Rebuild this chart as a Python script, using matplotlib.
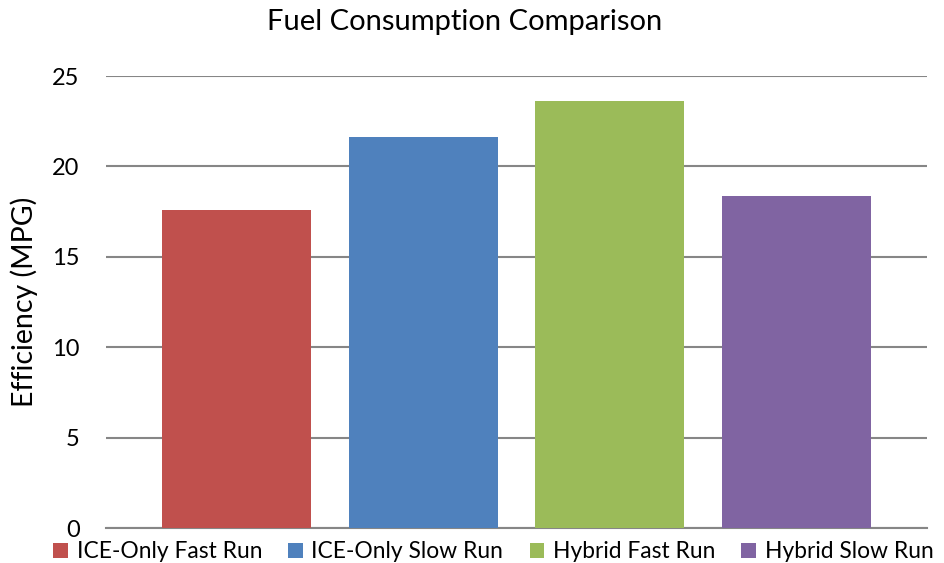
import matplotlib
matplotlib.use('Agg')
import matplotlib.pyplot as plt
from matplotlib.patches import Patch

# ── Data ──────────────────────────────────────────────────────────────────
categories = ['ICE-Only Fast Run', 'ICE-Only Slow Run', 'Hybrid Fast Run', 'Hybrid Slow Run']
mpg        = [17.6, 21.6, 23.6, 18.35]
colors     = ['#C0504D', '#4F81BD', '#9BBB59', '#8064A2']
yticks     = [0, 5, 10, 15, 20, 25]

plt.rcParams['font.family'] = ['Lato', 'DejaVu Sans']

fig = plt.figure(figsize=(9.45, 5.63), dpi=100)
ax = fig.add_axes([0.1122, 0.062, 0.8688, 0.803])

x = range(len(categories))
ax.bar(x, mpg, width=0.80, color=colors, zorder=3)

ax.set_ylim(0, 25)
ax.set_xlim(-0.70, 3.70)
ax.set_yticks(yticks)
ax.set_xticks([])
ax.yaxis.grid(True, color='#868686', linewidth=1.5, zorder=0)
for side in ['top', 'right', 'left']:
    ax.spines[side].set_visible(False)
ax.spines['bottom'].set_color('#868686')
ax.spines['bottom'].set_linewidth(1.5)
ax.tick_params(axis='y', length=0, labelsize=17, pad=19)

ax.set_ylabel('Efficiency (MPG)', fontsize=20.5, labelpad=10)
fig.text(0.492, 0.961, 'Fuel Consumption Comparison', ha='center', va='center', fontsize=21)

handles = [Patch(facecolor=c) for c in colors]
fig.legend(handles, categories, loc='center', bbox_to_anchor=(0.522, 0.02), ncol=4,
           frameon=False, fontsize=16.4, handlelength=0.64, handleheight=0.64,
           handletextpad=0.38, columnspacing=1.15, borderpad=0)

fig.savefig('out.png', dpi=100)
